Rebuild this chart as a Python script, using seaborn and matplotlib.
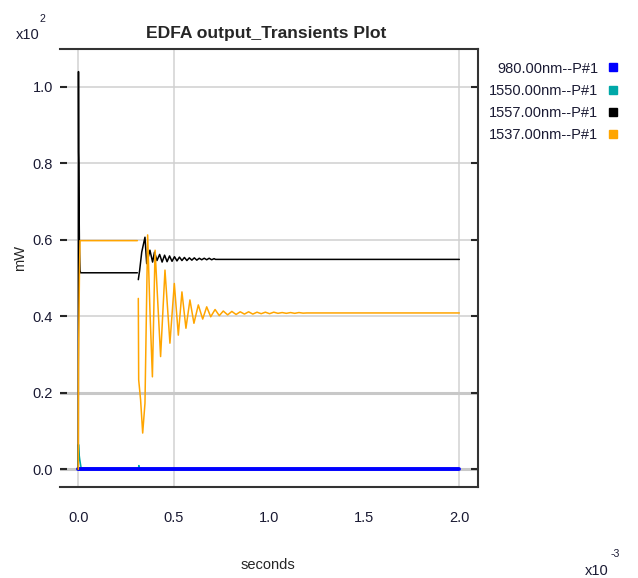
import matplotlib
matplotlib.use("Agg")
import numpy as np
import pandas as pd
import matplotlib.pyplot as plt
import seaborn as sns
from matplotlib import font_manager
from matplotlib.ticker import FuncFormatter, FixedLocator
from matplotlib.lines import Line2D

# ---------------- data (time in 1e-3 s, power in mW) ----------------
series_names = ["980.00nm--P#1", "1550.00nm--P#1", "1557.00nm--P#1", "1537.00nm--P#1"]
series_colors = ["#0000ff", "#00a8a8", "#000000", "#ffa500"]

# 980 nm pump
t_980 = [0.0, 2.0]
p_980 = [0.1, 0.1]
seg_980 = [0, 0]

# 1550 nm
t_1550 = [0.0, 0.001, 0.004, 0.008, 0.015, 0.31, 0.315, 0.318, 0.322, 0.33, 2.0]
p_1550 = [0.0, 6.5, 4.0, 2.5, 0.3, 0.1, 0.1, 1.0, 0.3, 0.1, 0.1]
seg_1550 = [0, 0, 0, 0, 0, 0, 1, 1, 1, 1, 1]

# 1557 nm
t_1557 = [0.0, 0.001, 0.002, 0.003, 0.004, 0.006, 0.009, 0.012, 0.31,
          0.315, 0.322, 0.333, 0.350, 0.359, 0.376, 0.390, 0.400, 0.413, 0.427,
          0.440, 0.453, 0.466, 0.479, 0.492, 0.505, 0.518, 0.531, 0.544, 0.557,
          0.570, 0.583, 0.596, 0.609, 0.622, 0.635, 0.648, 0.661, 0.674, 0.687,
          0.700, 0.713, 0.720, 2.0]
p_1557 = [0.0, 104.0, 83.0, 80.0, 70.0, 58.0, 52.0, 51.4, 51.4,
          49.6, 52.0, 56.8, 60.7, 53.8, 57.3, 54.2, 56.8, 54.6, 56.2,
          54.2, 56.0, 54.3, 55.8, 54.4, 55.6, 54.5, 55.5, 54.6, 55.4,
          54.6, 55.3, 54.7, 55.3, 54.7, 55.2, 54.8, 55.2, 54.8, 55.2,
          54.8, 55.1, 54.9, 54.9]
seg_1557 = [0] * 9 + [1] * 34

# 1537 nm
t_1537 = [0.0, 0.001, 0.006, 0.009, 0.31,
          0.315, 0.317, 0.327, 0.338, 0.350, 0.364, 0.376, 0.389, 0.403, 0.432,
          0.455, 0.481, 0.504, 0.525, 0.544, 0.565, 0.586, 0.607, 0.630, 0.653,
          0.674, 0.695, 0.718, 0.740, 0.761, 0.784, 0.806, 0.828, 0.850, 0.872,
          0.894, 0.916, 0.938, 0.960, 0.982, 1.004, 1.026, 1.048, 1.070, 1.092,
          1.114, 1.136, 1.158, 1.180, 1.200, 2.0]
p_1537 = [0.0, 27.0, 51.0, 59.8, 59.8,
          44.7, 23.4, 18.2, 9.5, 17.3, 61.3, 41.7, 24.2, 57.3, 29.5,
          52.1, 33.0, 48.6, 35.1, 46.4, 36.9, 44.3, 38.2, 43.0, 39.3,
          42.5, 39.9, 41.8, 40.2, 41.4, 40.4, 41.3, 40.5, 41.2, 40.6,
          41.2, 40.6, 41.1, 40.7, 41.1, 40.7, 41.1, 40.8, 41.0, 40.8,
          41.0, 40.8, 41.0, 40.85, 40.9, 40.9]
seg_1537 = [0] * 5 + [1] * 46

y_ticks = [0, 20, 40, 60, 80, 100]
x_ticks = [0.0, 0.5, 1.0, 1.5, 2.0]
x_marked = [0.0, 0.5, 2.0]

frames = []
for name, t, p, s in [(series_names[0], t_980, p_980, seg_980),
                      (series_names[1], t_1550, p_1550, seg_1550),
                      (series_names[2], t_1557, p_1557, seg_1557),
                      (series_names[3], t_1537, p_1537, seg_1537)]:
    frames.append(pd.DataFrame({"series": name, "t": t, "p": p, "seg": s}))
df = pd.concat(frames, ignore_index=True)

# ---------------- style ----------------
sns.set_style("white")
names = {f.name for f in font_manager.fontManager.ttflist}
if "Liberation Sans Narrow" in names:
    fam = ["Liberation Sans Narrow", "DejaVu Sans"]
    k = 1.0
else:
    fam = ["Liberation Sans", "DejaVu Sans"]
    k = 0.84
plt.rcParams["font.family"] = fam

fig = plt.figure(figsize=(6.38, 5.78), dpi=100)
ax = fig.add_axes([60 / 638, 1 - 487 / 578, 418 / 638, 438 / 578])

# draw order: 1550 beneath the thick 980 line, then 1557, then 1537
order = [1, 0, 2, 3]
widths = {0: 2.8, 1: 1.1, 2: 1.1, 3: 1.1}
for i in order:
    name, col = series_names[i], series_colors[i]
    sub = df[df["series"] == name]
    sns.lineplot(data=sub, x="t", y="p", units="seg", estimator=None, sort=False,
                 color=col, linewidth=widths[i], ax=ax, legend=False, zorder=3)

ax.set_xlim(-0.096, 2.098)
ax.set_ylim(-4.6, 109.9)

# grid
ax.yaxis.set_major_locator(FixedLocator(y_ticks))
ax.yaxis.set_major_formatter(FuncFormatter(lambda v, _: f"{v / 100:.1f}"))
ax.grid(axis="y", color="#cfcfcf", linewidth=1.1, zorder=0)
ax.grid(axis="x", visible=False)
for gl, v in zip(ax.get_ygridlines(), y_ticks):
    if v in (0, 20):
        gl.set_linewidth(2.2)
        gl.set_color("#c8c8c8")
for xv in x_marked:
    ax.axvline(xv, color="#d2d2d2", linewidth=1.1, zorder=0)

ax.xaxis.set_major_locator(FixedLocator(x_ticks))
ax.xaxis.set_major_formatter(FuncFormatter(lambda v, _: f"{v:.1f}"))
ax.xaxis.set_minor_locator(FixedLocator(x_marked))

fs = 12.5 * k
ax.tick_params(axis="y", which="major", direction="in", length=5, width=1.5,
               left=True, right=True, pad=5, labelsize=fs, labelcolor="#1a1a33")
ax.tick_params(axis="x", which="major", length=0, pad=17, labelsize=fs,
               labelcolor="#1a1a33")
ax.tick_params(axis="x", which="minor", direction="in", length=6, width=1.3,
               top=True, bottom=True, color="#333333")

for side in ("top", "right", "bottom"):
    ax.spines[side].set_visible(True)
    ax.spines[side].set_color("#333333")
    ax.spines[side].set_linewidth(1.5)
ax.spines["left"].set_visible(False)

ax.set_xlabel("seconds", fontsize=fs)
ax.xaxis.set_label_coords((268 - 60) / 418, -(558 - 487) / 438)
ax.set_ylabel("mW", fontsize=fs)
ax.yaxis.set_label_coords((27 - 60) / 418, (487 - 258) / 438)

ax.set_title("EDFA output_Transients Plot", fontsize=15 * k, fontweight="bold",
             pad=8, x=(266 - 60) / 418)

# axis multipliers
fig.text(16 / 638, 1 - 39 / 578, "x10", fontsize=fs, color="#1a1a33", va="baseline")
fig.text(39 / 638, 1 - 22 / 578, "2", fontsize=9 * k, color="#1a1a33", va="baseline")
fig.text(585 / 638, 1 - 575 / 578, "x10", fontsize=fs, color="#1a1a33", va="baseline")
fig.text(611 / 638, 1 - 557 / 578, "-3", fontsize=9 * k, color="#1a1a33", va="baseline")

# legend
handles = [Line2D([], [], marker="s", linestyle="none", color=c, markersize=5.5)
           for c in series_colors]
fig.legend(handles, series_names, loc="upper right",
           bbox_to_anchor=(617 / 638, 1 - 61.6 / 578), frameon=False,
           markerfirst=False, fontsize=fs, handlelength=0.6, handletextpad=0.67,
           labelspacing=0.56, borderpad=0, borderaxespad=0, labelcolor="#1a1a33")

fig.savefig("out.png", dpi=100)
